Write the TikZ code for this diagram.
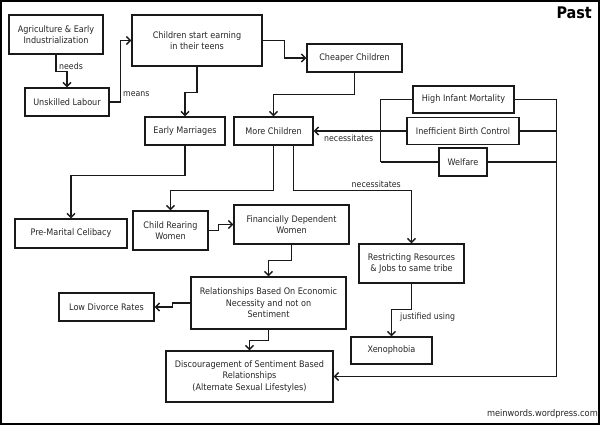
\documentclass[tikz,border=0pt]{standalone}
\usepackage{fontspec}
\setmainfont{DejaVu Sans Condensed}
\usetikzlibrary{arrows.meta}
\colorlet{inkline}{black!90}
\colorlet{inktext}{black!85}

\begin{document}
\begin{tikzpicture}[x=1pt, y=-1pt, >={Straight Barb[length=4pt, width=8pt]},
    box/.style={draw=inkline, line width=1.4pt, align=center, inner sep=1pt,
      text=inktext, font=\fontsize{9}{11.5}\selectfont},
    lnk/.style={->, draw=inkline, line width=1.3pt},
    bus/.style={draw=inkline, line width=1.3pt},
    lbl/.style={text=inktext, inner sep=0pt, font=\fontsize{8.7}{10}\selectfont}]
    \useasboundingbox (0,0) rectangle (600,425);
    \draw[line width=2pt] (1,1) rectangle (599,424);

    \node[font=\bfseries\fontsize{16}{16}\selectfont, anchor=north east, inner sep=0pt] (past) at (592,7) {Past};
    \node[lbl, anchor=east, font=\fontsize{9.2}{10}\selectfont] (site) at (598,414) {meinwords.wordpress.com};

    % top row
    \node[box, minimum width=94pt, minimum height=39pt] (agri) at (56,34.5) {Agriculture \& Early\\Industrialization};
    \node[box, minimum width=84pt, minimum height=28pt] (unsk) at (67,102) {Unskilled Labour};
    \node[box, minimum width=130pt, minimum height=51pt] (start) at (197,40.5) {Children start earning\\in their teens};
    \node[box, minimum width=95pt, minimum height=28pt] (cheap) at (354.5,58) {Cheaper Children};
    \node[box, minimum width=80pt, minimum height=28pt] (early) at (185,131) {Early Marriages};
    \node[box, minimum width=79pt, minimum height=28pt] (more) at (273.5,131) {More Children};

    % causes on the right
    \node[box, minimum width=101pt, minimum height=27pt] (hinf) at (463.5,99.5) {High Infant Mortality};
    \node[box, minimum width=112pt, minimum height=27pt] (ineff) at (463,131) {Inefficient Birth Control};
    \node[box, minimum width=48pt, minimum height=28pt] (welf) at (463,162) {Welfare};

    % lower part
    \node[box, minimum width=112pt, minimum height=29pt] (celib) at (71,233.5) {Pre-Marital Celibacy};
    \node[box, minimum width=75pt, minimum height=39pt] (child) at (170.5,230.5) {Child Rearing\\Women};
    \node[box, minimum width=115pt, minimum height=39pt] (fin) at (291.5,224.5) {Financially Dependent\\Women};
    \node[box, minimum width=105pt, minimum height=39pt] (restr) at (411.5,263.5) {Restricting Resources\\\& Jobs to same tribe};
    \node[box, minimum width=155pt, minimum height=52pt] (rel) at (268.5,303) {Relationships Based On Economic\\Necessity and not on\\Sentiment};
    \node[box, minimum width=95pt, minimum height=28pt] (lowdiv) at (106.5,307) {Low Divorce Rates};
    \node[box, minimum width=81pt, minimum height=27pt] (xeno) at (391.5,350.5) {Xenophobia};
    \node[box, minimum width=167pt, minimum height=51pt] (disc) at (249.5,376.5) {Discouragement of Sentiment Based\\Relationships\\(Alternate Sexual Lifestyles)};

    % links
    \draw[lnk] (agri.south) -- ++(0,17) -| (unsk.north);
    \node[lbl, anchor=west] (needs) at (59,66) {needs};
    \draw[lnk] (unsk.east) -- ++(11,0) |- (start.west);
    \node[lbl, anchor=west] (means) at (123,94) {means};
    \draw[lnk] (start.east) -- ++(22,0) |- (cheap.west);
    \draw[lnk] (start.south) -- ++(0,26) -| (early.north);
    \draw[lnk] (cheap.south) -- ++(0,22) -| (more.north);
    \draw[lnk] (early.south) -- ++(0,30) -| (celib.north);
    \draw[lnk] (more.south) -- ++(0,45) -| (child.north);
    \draw[lnk] ([xshift=20pt]more.south) -- ++(0,45) -| (restr.north);
    \node[lbl, anchor=east] (nec2) at (401,184) {necessitates};
    \draw[lnk] (child.east) -- ++(10,0) |- (fin.west);
    \draw[lnk] (fin.south) -- ++(0,16) -| (rel.north);
    \draw[lnk] (rel.west) -- ++(-18,0) |- (lowdiv.east);
    \draw[lnk] (rel.south) -- ++(0,11) -| (disc.north);
    \draw[lnk] (restr.south) -- ++(0,26) -| (xeno.north);
    \node[lbl, anchor=west] (just) at (400,317) {justified using};

    % the two buses
    \coordinate (busl) at (380.5,0);
    \coordinate (busr) at (556.5,0);
    \foreach \n in {hinf, ineff, welf} {
      \draw[bus] (\n.west) -- (\n.west -| busl);
      \draw[bus] (\n.east) -- (\n.east -| busr);
    }
    \draw[bus] (hinf.west -| busl) -- (welf.west -| busl);
    \draw[lnk] (ineff.west -| busl) -- (more.east);
    \node[lbl, anchor=west] (nec1) at (324,138) {necessitates};
    \draw[lnk] (hinf.east -| busr) |- (disc.east);
\end{tikzpicture}
\end{document}
